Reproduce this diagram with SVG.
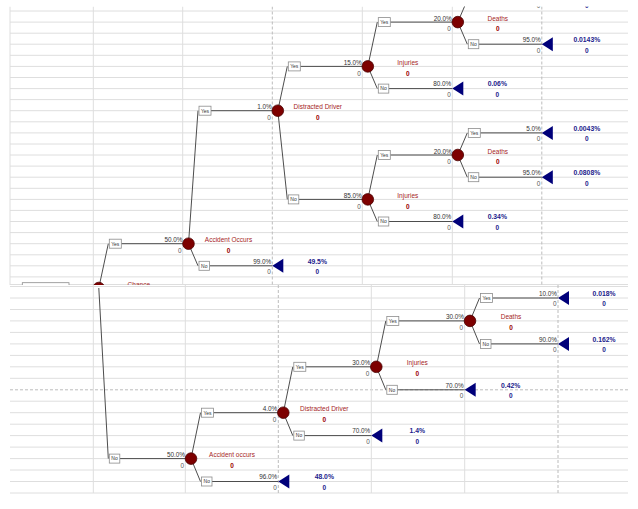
<svg xmlns="http://www.w3.org/2000/svg" width="638" height="509" viewBox="0 0 638 509">
<defs>
<style>
text{font-family:"Liberation Sans",Arial,sans-serif}
.g{stroke:#dedede;stroke-width:1;fill:none}
.gd{stroke:#bcbcbc;stroke-width:1;stroke-dasharray:3 2;fill:none}
.br{stroke:#4d4d4d;stroke-width:1;fill:none}
.bx{fill:#fff;stroke:#8c8c8c;stroke-width:0.8}
.bt{font-size:5px;fill:#333;text-anchor:middle}
.cn{fill:#7d0000;stroke:#4a0000;stroke-width:0.8}
.tn{fill:#00007a}
.p{font-size:6.4px;fill:#333;text-anchor:end}
.z{font-size:6.4px;fill:#555;text-anchor:end}
.nm{font-size:6.5px;fill:#a52525;text-anchor:middle}
.nz{font-size:6.5px;font-weight:bold;fill:#9b0000;text-anchor:middle}
.v{font-size:6.8px;font-weight:bold;fill:#1c1c8c;text-anchor:middle}
.vz{font-size:6.5px;font-weight:bold;fill:#1c1c8c;text-anchor:middle}
</style>
<clipPath id="topPane"><rect x="0" y="6.5" width="638" height="278.5"/></clipPath>
<clipPath id="botPane"><rect x="0" y="285" width="638" height="224"/></clipPath>
</defs>
<rect width="638" height="509" fill="#fff"/>

<g id="top-pane" clip-path="url(#topPane)">
<g id="grid-top">
<path class="g" d="M10 11H628M10 22.1H628M10 33.2H628M10 44.2H628M10 55.3H628M10 66.4H628M10 77.5H628M10 88.6H628M10 99.6H628M10 110.7H628M10 121.8H628M10 132.9H628M10 144H628M10 155H628M10 166.1H628M10 177.2H628M10 188.3H628M10 199.4H628M10 210.4H628M10 221.5H628M10 232.6H628M10 243.7H628M10 254.8H628M10 265.8H628M10 276.9H628M10 284.5H628"/>
<path class="g" d="M10 6.5V285M93.3 6.5V285M182.7 6.5V285M362.3 6.5V285M452.3 6.5V285"/>
<path class="gd" d="M272.3 6.5V285M541.8 6.5V285"/>
<rect x="22.3" y="282.7" width="46.7" height="10" fill="#fff" stroke="#8c8c8c" stroke-width="0.8"/>
</g>

<g id="connectors-top">
<path class="br" d="M98.8 288L108.3 243.7M121.3 243.7H188.5"/>
<path class="br" d="M188.5 243.7L198 110.7M211 110.7H277.8"/>
<path class="br" d="M188.5 243.7L198 265.8M209.5 265.8H272.3"/>
<path class="br" d="M277.8 110.7L287.3 66.4M300.3 66.4H367.8"/>
<path class="br" d="M277.8 110.7L287.3 199.4M298.8 199.4H367.8"/>
<path class="br" d="M367.8 66.4L377.3 22.1M390.3 22.1H457.8"/>
<path class="br" d="M367.8 66.4L377.3 88.6M388.8 88.6H452.3"/>
<path class="br" d="M457.8 22.1L467.3 0"/>
<path class="br" d="M457.8 22.1L467.3 44.2M478.8 44.2H541.8"/>
<path class="br" d="M367.8 199.4L377.3 155M390.3 155H457.8"/>
<path class="br" d="M367.8 199.4L377.3 221.5M388.8 221.5H452.3"/>
<path class="br" d="M457.8 155L467.3 132.9M480.3 132.9H541.8"/>
<path class="br" d="M457.8 155L467.3 177.2M478.8 177.2H541.8"/>
<g id="branch-labels-top">
<rect class="bx" x="109.3" y="239.2" width="12" height="9"/><text class="bt" x="115.3" y="245.5">Yes</text>
<rect class="bx" x="199" y="106.2" width="12" height="9"/><text class="bt" x="205" y="112.5">Yes</text>
<rect class="bx" x="199" y="261.3" width="10.5" height="9"/><text class="bt" x="204.25" y="267.6">No</text>
<rect class="bx" x="288.3" y="61.9" width="12" height="9"/><text class="bt" x="294.3" y="68.2">Yes</text>
<rect class="bx" x="288.3" y="194.9" width="10.5" height="9"/><text class="bt" x="293.55" y="201.2">No</text>
<rect class="bx" x="378.3" y="17.6" width="12" height="9"/><text class="bt" x="384.3" y="23.9">Yes</text>
<rect class="bx" x="378.3" y="84.1" width="10.5" height="9"/><text class="bt" x="383.55" y="90.4">No</text>
<rect class="bx" x="468.3" y="39.7" width="10.5" height="9"/><text class="bt" x="473.55" y="46">No</text>
<rect class="bx" x="378.3" y="150.5" width="12" height="9"/><text class="bt" x="384.3" y="156.8">Yes</text>
<rect class="bx" x="378.3" y="217" width="10.5" height="9"/><text class="bt" x="383.55" y="223.3">No</text>
<rect class="bx" x="468.3" y="128.4" width="12" height="9"/><text class="bt" x="474.3" y="134.7">Yes</text>
<rect class="bx" x="468.3" y="172.7" width="10.5" height="9"/><text class="bt" x="473.55" y="179">No</text>
</g>
</g>

<g id="node-chance">
<circle class="cn" cx="98.8" cy="288" r="5.8"/>
<text class="nm" x="138.8" y="286.5">Chance</text>
</g>
<g id="node-accident-top">
<circle class="cn" cx="188.5" cy="243.7" r="5.8"/>
<text class="p" x="182.5" y="242.2">50.0%</text><text class="z" x="181.5" y="253">0</text>
<text class="nm" x="228.5" y="242.2">Accident Occurs</text><text class="nz" x="228.5" y="253">0</text>
</g>
<g id="node-distracted-top">
<circle class="cn" cx="277.8" cy="110.7" r="5.8"/>
<text class="p" x="271.8" y="109.2">1.0%</text><text class="z" x="270.8" y="120">0</text>
<text class="nm" x="317.8" y="109.2">Distracted Driver</text><text class="nz" x="317.8" y="120">0</text>
</g>
<g id="node-injuries-top-a">
<circle class="cn" cx="367.8" cy="66.4" r="5.8"/>
<text class="p" x="361.8" y="64.9">15.0%</text><text class="z" x="360.8" y="75.7">0</text>
<text class="nm" x="407.8" y="64.9">Injuries</text><text class="nz" x="407.8" y="75.7">0</text>
</g>
<g id="node-deaths-top-a">
<circle class="cn" cx="457.8" cy="22.1" r="5.8"/>
<text class="p" x="451.8" y="20.6">20.0%</text><text class="z" x="450.8" y="31.4">0</text>
<text class="nm" x="497.8" y="20.6">Deaths</text><text class="nz" x="497.8" y="31.4">0</text>
</g>
<g id="node-injuries-top-b">
<circle class="cn" cx="367.8" cy="199.4" r="5.8"/>
<text class="p" x="361.8" y="197.9">85.0%</text><text class="z" x="360.8" y="208.7">0</text>
<text class="nm" x="407.8" y="197.9">Injuries</text><text class="nz" x="407.8" y="208.7">0</text>
</g>
<g id="node-deaths-top-b">
<circle class="cn" cx="457.8" cy="155" r="5.8"/>
<text class="p" x="451.8" y="153.5">20.0%</text><text class="z" x="450.8" y="164.3">0</text>
<text class="nm" x="497.8" y="153.5">Deaths</text><text class="nz" x="497.8" y="164.3">0</text>
</g>
<g id="term-top-0">
<text class="z" x="540.3" y="8.3">0</text><text class="vz" x="586.8" y="8.3">0</text>
</g>
<g id="term-top-1">
<polygon class="tn" points="272.3,265.8 283.3,258.8 283.3,272.8"/>
<text class="p" x="271.3" y="263.5">99.0%</text><text class="z" x="270.8" y="274.1">0</text>
<text class="v" x="317.3" y="263.5">49.5%</text><text class="vz" x="317.3" y="274.1">0</text>
</g>
<g id="term-top-2">
<polygon class="tn" points="452.3,88.6 463.3,81.6 463.3,95.6"/>
<text class="p" x="451.3" y="86.3">80.0%</text><text class="z" x="450.8" y="96.9">0</text>
<text class="v" x="497.3" y="86.3">0.06%</text><text class="vz" x="497.3" y="96.9">0</text>
</g>
<g id="term-top-3">
<polygon class="tn" points="541.8,44.2 552.8,37.2 552.8,51.2"/>
<text class="p" x="540.8" y="41.9">95.0%</text><text class="z" x="540.3" y="52.5">0</text>
<text class="v" x="586.8" y="41.9">0.0143%</text><text class="vz" x="586.8" y="52.5">0</text>
</g>
<g id="term-top-4">
<polygon class="tn" points="452.3,221.5 463.3,214.5 463.3,228.5"/>
<text class="p" x="451.3" y="219.2">80.0%</text><text class="z" x="450.8" y="229.8">0</text>
<text class="v" x="497.3" y="219.2">0.34%</text><text class="vz" x="497.3" y="229.8">0</text>
</g>
<g id="term-top-5">
<polygon class="tn" points="541.8,132.9 552.8,125.9 552.8,139.9"/>
<text class="p" x="540.8" y="130.6">5.0%</text><text class="z" x="540.3" y="141.2">0</text>
<text class="v" x="586.8" y="130.6">0.0043%</text><text class="vz" x="586.8" y="141.2">0</text>
</g>
<g id="term-top-6">
<polygon class="tn" points="541.8,177.2 552.8,170.2 552.8,184.2"/>
<text class="p" x="540.8" y="174.9">95.0%</text><text class="z" x="540.3" y="185.5">0</text>
<text class="v" x="586.8" y="174.9">0.0808%</text><text class="vz" x="586.8" y="185.5">0</text>
</g>
</g>

<g id="bottom-pane" clip-path="url(#botPane)">
<g id="grid-bottom">
<path class="g" d="M10 286.5H628M10 298H628M10 309.5H628M10 320.9H628M10 332.4H628M10 343.9H628M10 355.4H628M10 366.8H628M10 378.3H628M10 401.2H628M10 412.7H628M10 424.2H628M10 435.6H628M10 447.1H628M10 458.6H628M10 470H628M10 481.5H628M10 493H628"/>
<path class="gd" d="M10 389.8H628"/>
<path class="g" d="M93.3 285V493M185.3 285V493M371.3 285V493M464.7 285V493"/>
<path class="gd" d="M278.3 285V493M558 285V493"/>
</g>

<g id="connectors-bottom">
<path class="br" d="M98.8 288L108.3 458.6M119.8 458.6H191"/>
<path class="br" d="M191 458.6L200.5 412.7M213.5 412.7H283.3"/>
<path class="br" d="M191 458.6L200.5 481.5M212 481.5H278.3"/>
<path class="br" d="M283.3 412.7L292.8 366.8M305.8 366.8H376.3"/>
<path class="br" d="M283.3 412.7L292.8 435.6M304.3 435.6H371.3"/>
<path class="br" d="M376.3 366.8L385.8 320.9M398.8 320.9H470"/>
<path class="br" d="M376.3 366.8L385.8 389.8M397.3 389.8H464.7"/>
<path class="br" d="M470 320.9L479.5 298M492.5 298H558"/>
<path class="br" d="M470 320.9L479.5 343.9M491 343.9H558"/>
<g id="branch-labels-bottom">
<rect class="bx" x="109.3" y="454.1" width="10.5" height="9"/><text class="bt" x="114.55" y="460.4">No</text>
<rect class="bx" x="201.5" y="408.2" width="12" height="9"/><text class="bt" x="207.5" y="414.5">Yes</text>
<rect class="bx" x="201.5" y="477" width="10.5" height="9"/><text class="bt" x="206.75" y="483.3">No</text>
<rect class="bx" x="293.8" y="362.3" width="12" height="9"/><text class="bt" x="299.8" y="368.6">Yes</text>
<rect class="bx" x="293.8" y="431.1" width="10.5" height="9"/><text class="bt" x="299.05" y="437.4">No</text>
<rect class="bx" x="386.8" y="316.4" width="12" height="9"/><text class="bt" x="392.8" y="322.7">Yes</text>
<rect class="bx" x="386.8" y="385.3" width="10.5" height="9"/><text class="bt" x="392.05" y="391.6">No</text>
<rect class="bx" x="480.5" y="293.5" width="12" height="9"/><text class="bt" x="486.5" y="299.8">Yes</text>
<rect class="bx" x="480.5" y="339.4" width="10.5" height="9"/><text class="bt" x="485.75" y="345.7">No</text>
</g>
</g>

<g id="node-accident-bottom">
<circle class="cn" cx="191" cy="458.6" r="5.8"/>
<text class="p" x="185" y="457.1">50.0%</text><text class="z" x="184" y="467.9">0</text>
<text class="nm" x="232" y="457.1">Accident occurs</text><text class="nz" x="232" y="467.9">0</text>
</g>
<g id="node-distracted-bottom">
<circle class="cn" cx="283.3" cy="412.7" r="5.8"/>
<text class="p" x="277.3" y="411.2">4.0%</text><text class="z" x="276.3" y="422">0</text>
<text class="nm" x="324.3" y="411.2">Distracted Driver</text><text class="nz" x="324.3" y="422">0</text>
</g>
<g id="node-injuries-bottom">
<circle class="cn" cx="376.3" cy="366.8" r="5.8"/>
<text class="p" x="370.3" y="365.3">30.0%</text><text class="z" x="369.3" y="376.1">0</text>
<text class="nm" x="417.3" y="365.3">Injuries</text><text class="nz" x="417.3" y="376.1">0</text>
</g>
<g id="node-deaths-bottom">
<circle class="cn" cx="470" cy="320.9" r="5.8"/>
<text class="p" x="464" y="319.4">30.0%</text><text class="z" x="463" y="330.2">0</text>
<text class="nm" x="511" y="319.4">Deaths</text><text class="nz" x="511" y="330.2">0</text>
</g>
<g id="term-bottom-7">
<polygon class="tn" points="278.3,481.5 289.3,474.5 289.3,488.5"/>
<text class="p" x="277.3" y="479.2">96.0%</text><text class="z" x="276.8" y="489.8">0</text>
<text class="v" x="324.3" y="479.2">48.0%</text><text class="vz" x="324.3" y="489.8">0</text>
</g>
<g id="term-bottom-8">
<polygon class="tn" points="371.3,435.6 382.3,428.6 382.3,442.6"/>
<text class="p" x="370.3" y="433.3">70.0%</text><text class="z" x="369.8" y="443.9">0</text>
<text class="v" x="417.3" y="433.3">1.4%</text><text class="vz" x="417.3" y="443.9">0</text>
</g>
<g id="term-bottom-9">
<polygon class="tn" points="464.7,389.8 475.7,382.8 475.7,396.8"/>
<text class="p" x="463.7" y="387.5">70.0%</text><text class="z" x="463.2" y="398.1">0</text>
<text class="v" x="510.7" y="387.5">0.42%</text><text class="vz" x="510.7" y="398.1">0</text>
</g>
<g id="term-bottom-10">
<polygon class="tn" points="558,298 569,291 569,305"/>
<text class="p" x="557" y="295.7">10.0%</text><text class="z" x="556.5" y="306.3">0</text>
<text class="v" x="604" y="295.7">0.018%</text><text class="vz" x="604" y="306.3">0</text>
</g>
<g id="term-bottom-11">
<polygon class="tn" points="558,343.9 569,336.9 569,350.9"/>
<text class="p" x="557" y="341.6">90.0%</text><text class="z" x="556.5" y="352.2">0</text>
<text class="v" x="604" y="341.6">0.162%</text><text class="vz" x="604" y="352.2">0</text>
</g>
</g>
</svg>
